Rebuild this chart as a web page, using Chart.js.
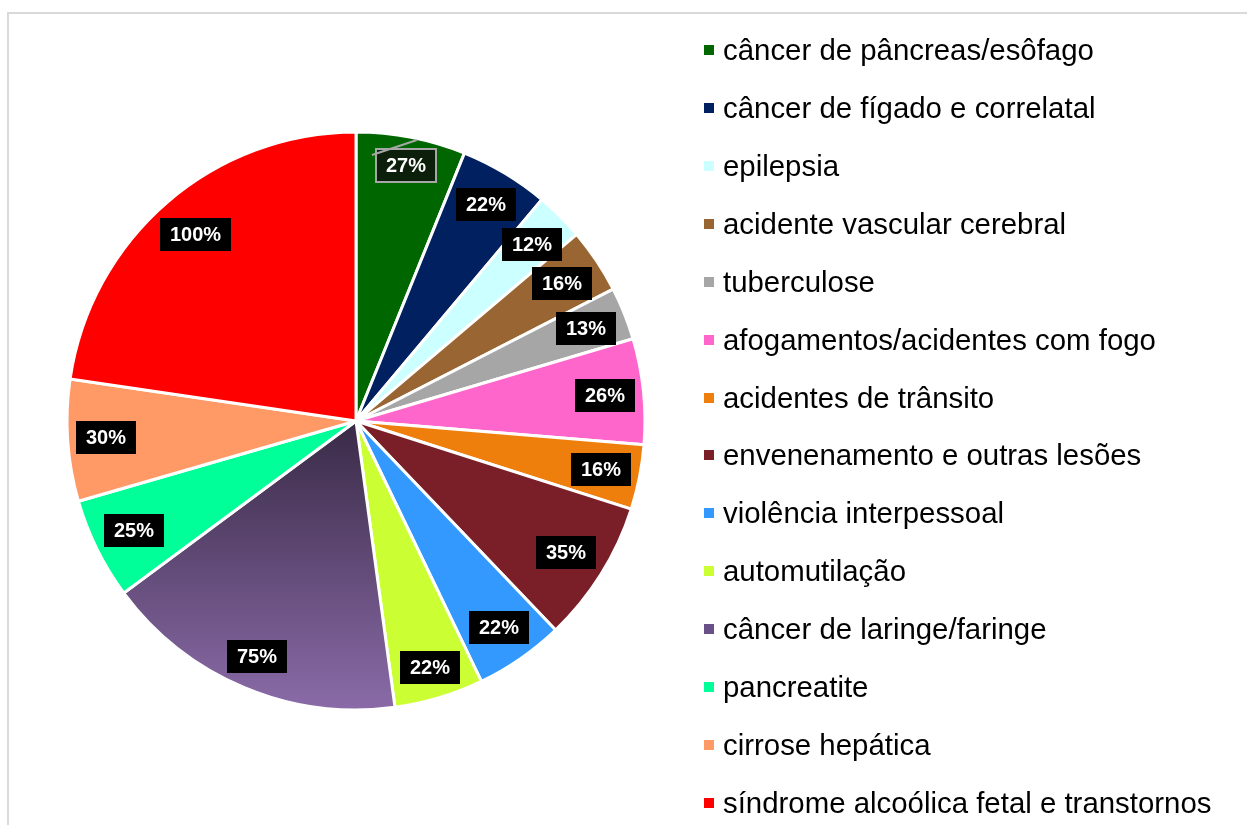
<!DOCTYPE html>
<html>
<head>
<meta charset="utf-8">
<script src="https://cdn.jsdelivr.net/npm/chart.js@4.4.1/dist/chart.umd.min.js"></script>
<style>
  html, body { margin: 0; padding: 0; background: #fff; }
  #wrap { position: relative; width: 1247px; height: 825px; overflow: hidden; background: #fff; }
  #frame { position: absolute; left: 7px; top: 12px; width: 1400px; height: 1000px;
           border-top: 2px solid #d9d9d9; border-left: 2px solid #d9d9d9; }
  #pie { position: absolute; left: 0; top: 0; }
  #legend { position: absolute; left: 0; top: 0; font-family: "Liberation Sans", Arial, sans-serif;
            font-size: 29.4px; color: #000; }
  .item { position: absolute; left: 704px; height: 34px; display: flex; align-items: center; white-space: nowrap; }
  .box { width: 10px; height: 10px; margin-right: 9px; flex: none; }
</style>
</head>
<body>
<div id="wrap">
  <div id="frame"></div>
  <canvas id="pie" width="1247" height="825"></canvas>
  <div id="legend"></div>
</div>
<script>
const causas = [
  'câncer de pâncreas/esôfago',
  'câncer de fígado e correlatal',
  'epilepsia',
  'acidente vascular cerebral',
  'tuberculose',
  'afogamentos/acidentes com fogo',
  'acidentes de trânsito',
  'envenenamento e outras lesões',
  'violência interpessoal',
  'automutilação',
  'câncer de laringe/faringe',
  'pancreatite',
  'cirrose hepática',
  'síndrome alcoólica fetal e transtornos'
];
const fracoes = [27, 22, 12, 16, 13, 26, 16, 35, 22, 22, 75, 25, 30, 100];
const cores = ['#006600', '#002060', '#ccffff', '#996633', '#a6a6a6', '#ff66cc', '#ef7f0d',
               '#7a1f28', '#3399ff', '#ccff33', '#6a5088', '#00ff99', '#ff9966', '#ff0000'];

// legenda em HTML
const legenda = document.getElementById('legend');
causas.forEach((nome, i) => {
  const item = document.createElement('div');
  item.className = 'item';
  item.style.top = (50.3 + i * 57.88 - 17) + 'px';
  const box = document.createElement('span');
  box.className = 'box';
  box.style.background = cores[i];
  item.appendChild(box);
  item.appendChild(document.createTextNode(nome));
  legenda.appendChild(item);
});

function corFatia(context) {
  const i = context.dataIndex;
  if (i !== 10) return cores[i];
  const area = context.chart.chartArea;
  if (!area) return cores[i];
  const cy = (area.top + area.bottom) / 2;
  const g = context.chart.ctx.createLinearGradient(0, cy, 0, cy + 289);
  g.addColorStop(0, '#392a46');
  g.addColorStop(1, '#8a6ba8');
  return g;
}

const rotulos = {
  id: 'rotulos',
  afterDatasetsDraw(chart) {
    const ctx = chart.ctx;
    const arcs = chart.getDatasetMeta(0).data;
    ctx.save();
    ctx.font = 'bold 20px "Liberation Sans", Arial, sans-serif';
    ctx.textAlign = 'center';
    ctx.textBaseline = 'middle';
    arcs.forEach((arc, i) => {
      const p = arc.getProps(['x', 'y', 'startAngle', 'endAngle', 'outerRadius'], true);
      const mid = (p.startAngle + p.endAngle) / 2;
      const txt = fracoes[i] + '%';
      const w = Math.round(ctx.measureText(txt).width + 20), h = 33;
      const c = Math.cos(mid), s = Math.sin(mid);
      const d = p.outerRadius - 7 - (w / 2) * Math.abs(c) - (h / 2) * Math.abs(s);
      const cx = p.x + d * c, cy = p.y + d * s;
      const left = Math.round(cx - w / 2), top = Math.round(cy - h / 2);
      if (i === 0) {
        ctx.fillStyle = '#0b1f0b';
        ctx.fillRect(left, top, w, h);
        ctx.strokeStyle = '#a6a6a6';
        ctx.lineWidth = 2;
        ctx.strokeRect(left, top, w, h);
        ctx.beginPath();
        ctx.moveTo(left - 4, top + 6);
        ctx.lineTo(left + 41, top - 9);
        ctx.stroke();
      } else {
        ctx.fillStyle = '#000';
        ctx.fillRect(left, top, w, h);
      }
      ctx.fillStyle = '#fff';
      ctx.fillText(txt, left + w / 2, top + h / 2 + 1);
    });
    ctx.restore();
  }
};

new Chart(document.getElementById('pie'), {
  type: 'pie',
  data: {
    labels: causas,
    datasets: [{
      data: fracoes,
      backgroundColor: corFatia,
      borderColor: '#ffffff',
      borderWidth: 3,
      hoverBorderWidth: 3,
      hoverOffset: 0
    }]
  },
  options: {
    responsive: false,
    animation: false,
    radius: 289,
    layout: { padding: { left: 60, right: 595, top: 130, bottom: 113 } },
    plugins: {
      legend: { display: false },
      tooltip: { enabled: false }
    }
  },
  plugins: [rotulos]
});
</script>
</body>
</html>
